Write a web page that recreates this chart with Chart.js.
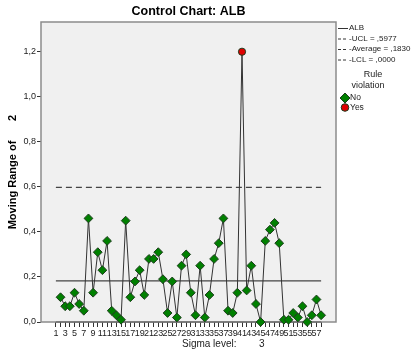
<!DOCTYPE html>
<html>
<head>
<meta charset="utf-8">
<script src="https://cdn.jsdelivr.net/npm/chart.js@4.4.1/dist/chart.umd.min.js"></script>
<style>
  html, body { margin: 0; padding: 0; background: #fff; }
  #wrap { width: 411px; height: 354px; position: relative; }
</style>
</head>
<body>
<div id="wrap"><canvas id="chart"></canvas></div>
<script>
// --- Data ---
const rangeIndex = [2, 3, 4, 5, 6, 7, 8, 9, 10, 11, 12, 13, 14, 15, 16, 17, 18, 19, 20, 21,
  22, 23, 24, 25, 26, 27, 28, 29, 30, 31, 32, 33, 34, 35, 36, 37, 38, 39, 40, 41,
  42, 43, 44, 45, 46, 47, 48, 49, 50, 51, 52, 53, 54, 55, 56, 57, 58];
const movingRange = [0.11, 0.07, 0.07, 0.13, 0.08, 0.05, 0.46, 0.13, 0.31, 0.23,
  0.36, 0.05, 0.03, 0.01, 0.45, 0.11, 0.18, 0.23, 0.12, 0.28,
  0.28, 0.31, 0.19, 0.04, 0.18, 0.02, 0.25, 0.30, 0.13, 0.03,
  0.25, 0.02, 0.12, 0.28, 0.35, 0.46, 0.05, 0.04, 0.13, 1.20,
  0.14, 0.25, 0.08, 0.00, 0.36, 0.41, 0.44, 0.35, 0.01, 0.01,
  0.04, 0.02, 0.07, 0.00, 0.03, 0.10, 0.03];
const xTickLabels = [1, 3, 5, 7, 9, 11, 13, 15, 17, 19, 21, 23, 25, 27, 29, 31, 33, 35, 37, 39,
  41, 43, 45, 47, 49, 51, 53, 55, 57];
const yTickValues = [0, 0.2, 0.4, 0.6, 0.8, 1.0, 1.2];
const ucl = 0.5977;
const average = 0.1830;
const lcl = 0.0;
const limitSpan = [1, 58];

const FONT = '"Liberation Sans", Arial, sans-serif';
const isViolation = v => v > ucl || v < lcl;

// --- Custom drawing: background, frame, titles, legend ---
const decorPlugin = {
  id: 'decor',
  beforeDatasetsDraw(chart) {
    const { ctx, chartArea: a } = chart;
    ctx.save();
    ctx.fillStyle = '#f0f0f0';
    ctx.fillRect(a.left, a.top, a.right - a.left, a.bottom - a.top);
    ctx.strokeStyle = '#8c8c8c';
    ctx.lineWidth = 1.5;
    ctx.strokeRect(a.left, a.top, a.right - a.left, a.bottom - a.top);
    ctx.restore();
  },
  afterDraw(chart) {
    const { ctx, chartArea: a } = chart;
    ctx.save();
    ctx.fillStyle = '#000';
    // title
    ctx.font = 'bold 12.5px ' + FONT;
    ctx.textAlign = 'center';
    ctx.textBaseline = 'middle';
    ctx.fillText('Control Chart: ALB', (a.left + a.right) / 2, 12);
    // y title
    ctx.save();
    ctx.translate(13, 0);
    ctx.rotate(-Math.PI / 2);
    ctx.font = 'bold 11px ' + FONT;
    ctx.fillText('Moving Range of', -185, 0);
    ctx.fillText('2', -118, 0);
    ctx.restore();
    // sigma level
    ctx.font = '10px ' + FONT;
    ctx.fillStyle = '#222';
    ctx.textAlign = 'left';
    ctx.fillText('Sigma level:', 182, 344);
    ctx.fillText('3', 259, 344);

    // legend
    const lx = 338;
    ctx.font = '8px ' + FONT;
    ctx.strokeStyle = '#333';
    ctx.lineWidth = 1;
    const rows = [
      { text: 'ALB', y: 28, dash: [] },
      { text: '-UCL = ,5977', y: 38.5, dash: [3, 2] },
      { text: '-Average = ,1830', y: 49, dash: [3, 2] },
      { text: '-LCL = ,0000', y: 59.5, dash: [3, 2] }
    ];
    rows.forEach(r => {
      ctx.setLineDash(r.dash);
      ctx.beginPath();
      ctx.moveTo(lx, r.y + 0.5);
      ctx.lineTo(lx + 10, r.y + 0.5);
      ctx.stroke();
      ctx.setLineDash([]);
      ctx.fillText(r.text, lx + 11, r.y);
    });
    ctx.font = '9px ' + FONT;
    ctx.textAlign = 'center';
    ctx.fillText('Rule', 373, 75);
    ctx.fillText('violation', 368, 86);
    ctx.textAlign = 'left';
    // diamond
    ctx.fillStyle = '#008000';
    ctx.strokeStyle = '#1e3d1e';
    ctx.beginPath();
    ctx.moveTo(345, 93); ctx.lineTo(350, 98); ctx.lineTo(345, 103); ctx.lineTo(340, 98);
    ctx.closePath(); ctx.fill(); ctx.stroke();
    ctx.fillStyle = '#e00000';
    ctx.beginPath();
    ctx.arc(345, 107.5, 3.8, 0, Math.PI * 2);
    ctx.fill(); ctx.stroke();
    ctx.fillStyle = '#222';
    ctx.font = '8.5px ' + FONT;
    ctx.fillText('No', 350, 98);
    ctx.fillText('Yes', 350, 108);
    ctx.restore();
  }
};

const chart = new Chart(document.getElementById('chart'), {
  type: 'line',
  data: {
    datasets: [
      {
        label: 'ALB',
        data: rangeIndex.map((x, i) => ({ x: x, y: movingRange[i] })),
        borderColor: '#333',
        borderWidth: 1,
        tension: 0,
        pointStyle: c => isViolation(movingRange[c.dataIndex]) ? 'circle' : 'rectRot',
        pointRadius: c => isViolation(movingRange[c.dataIndex]) ? 3.6 : 4.4,
        pointBackgroundColor: c => isViolation(movingRange[c.dataIndex]) ? '#e00000' : '#008000',
        pointBorderColor: '#1e3d1e',
        pointBorderWidth: 1,
        clip: false,
        order: 0
      },
      {
        label: 'UCL',
        data: limitSpan.map(x => ({ x: x, y: ucl })),
        borderColor: '#444',
        borderWidth: 1.2,
        borderDash: [6, 4],
        pointRadius: 0,
        order: 1
      },
      {
        label: 'Average',
        data: limitSpan.map(x => ({ x: x, y: average })),
        borderColor: '#444',
        borderWidth: 1.2,
        pointRadius: 0,
        order: 1
      },
      {
        label: 'LCL',
        data: limitSpan.map(x => ({ x: x, y: lcl })),
        borderColor: '#555',
        borderWidth: 1,
        pointRadius: 0,
        clip: false,
        order: 1
      }
    ]
  },
  options: {
    responsive: true,
    maintainAspectRatio: false,
    animation: false,
    layout: { padding: { left: 0, right: 75, top: 22, bottom: 0 } },
    plugins: { legend: { display: false }, tooltip: { enabled: false } },
    scales: {
      x: {
        type: 'linear',
        min: -2.2,
        max: 61.2,
        afterBuildTicks: s => { s.ticks = [1].concat(rangeIndex).map(v => ({ value: v })); },
        afterFit: s => { s.height = 32; },
        grid: { drawOnChartArea: false, tickLength: 5, color: '#333' },
        border: { display: false },
        ticks: {
          autoSkip: false,
          maxRotation: 0,
          padding: 1,
          color: '#222',
          font: { family: FONT, size: 9 },
          callback: v => xTickLabels.includes(v) ? String(v) : ''
        }
      },
      y: {
        min: 0,
        max: 1.332,
        afterBuildTicks: s => { s.ticks = yTickValues.map(v => ({ value: v })); },
        afterFit: s => { s.width = 41; },
        grid: { drawOnChartArea: false, tickLength: 4, color: '#333' },
        border: { display: false },
        ticks: {
          padding: 1,
          color: '#222',
          font: { family: FONT, size: 9 },
          callback: v => v.toFixed(1).replace('.', ',')
        }
      }
    }
  },
  plugins: [decorPlugin]
});
</script>
</body>
</html>
